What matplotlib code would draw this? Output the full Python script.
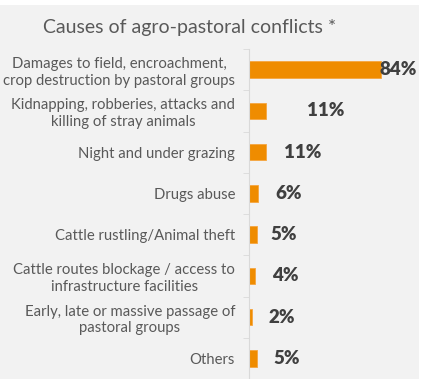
import matplotlib
matplotlib.use('Agg')
import matplotlib.pyplot as plt
from matplotlib.patches import Rectangle

causes = [
    'Damages to field, encroachment,\ncrop destruction by pastoral groups',
    'Kidnapping, robberies, attacks and\nkilling of stray animals',
    'Night and under grazing',
    'Drugs abuse',
    'Cattle rustling/Animal theft',
    'Cattle routes blockage / access to\ninfrastructure facilities',
    'Early, late or massive passage of\npastoral groups',
    'Others',
]
percent = [84, 11, 11, 6, 5, 4, 2, 5]
value_labels = ['84%', '11%', '11%', '6%', '5%', '4%', '2%', '5%']

# label offsets from bar end, in points (as in the original layout)
label_shift = [-1, 29, 13, 12, 10, 12, 12, 12]

plt.rcParams['font.family'] = ['Lato', 'DejaVu Sans']

fig = plt.figure(figsize=(4.23, 3.79), dpi=100, facecolor='white')
fig.patches.append(Rectangle((0, 0), 419 / 423, 374 / 379, transform=fig.transFigure,
                             facecolor='#f2f2f2', edgecolor='none', zorder=-10))

ax = fig.add_axes([249 / 423, 0, 174 / 423, 330 / 379])
ax.set_facecolor('none')

y = list(range(len(causes)))
ax.barh(y, percent, height=0.4, color='#ef8c00', edgecolor='#f5a640', linewidth=0.6)
ax.set_xlim(0, 110.7)
ax.set_ylim(len(causes) - 0.5, -0.5)

for i, (v, lab) in enumerate(zip(percent, value_labels)):
    ax.annotate(lab, (v, i), xytext=(label_shift[i], 0), textcoords='offset points',
                ha='left', va='center', fontsize=13.5, fontweight='heavy', color='#404040')

ax.set_yticks(y)
ax.set_yticklabels(causes, fontsize=10.7, color='#595959', multialignment='center',
                   linespacing=1.25)
ax.tick_params(axis='y', which='major', length=0, pad=10)
ax.set_yticks([i + 0.5 for i in range(-1, len(causes))], minor=True)
ax.tick_params(axis='y', which='minor', length=4, color='#d9d9d9', direction='out')
ax.set_xticks([])
for s in ['top', 'right', 'bottom']:
    ax.spines[s].set_visible(False)
ax.spines['left'].set_color('#d9d9d9')

fig.text(190 / 423, 1 - 28 / 379, 'Causes of agro-pastoral conflicts *', ha='center', va='center',
         fontsize=14, color='#595959')

fig.savefig('out.png', dpi=100, facecolor=fig.get_facecolor())
